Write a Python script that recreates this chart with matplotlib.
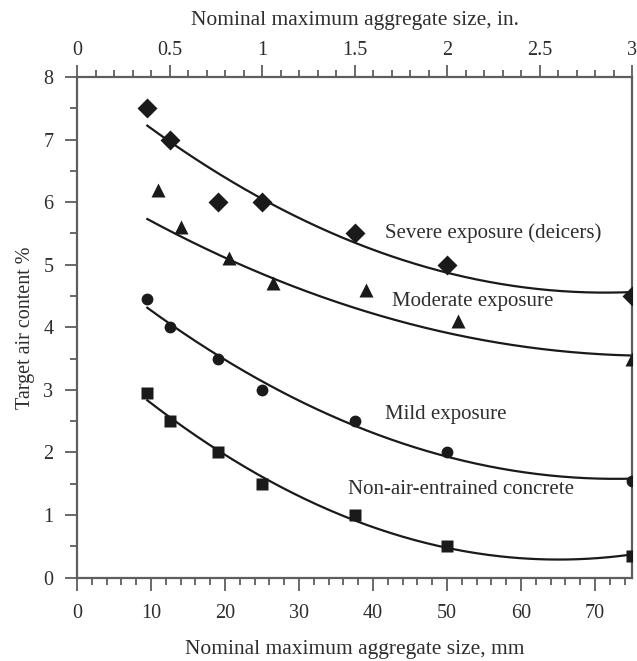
import numpy as np
import matplotlib
matplotlib.use('Agg')
import matplotlib.pyplot as plt
from matplotlib.ticker import MultipleLocator

plt.rcParams['font.family'] = ['Liberation Serif', 'DejaVu Serif']

# data (mm, %)
severe_x = [9.5, 12.5, 19, 25, 37.5, 50, 75]
severe_y = [7.5, 7.0, 6.0, 6.0, 5.5, 5.0, 4.5]
moderate_x = [11, 14, 20.5, 26.5, 39, 51.5, 75]
moderate_y = [6.2, 5.6, 5.1, 4.7, 4.6, 4.1, 3.5]
mild_x = [9.5, 12.5, 19, 25, 37.5, 50, 75]
mild_y = [4.45, 4.0, 3.5, 3.0, 2.5, 2.0, 1.55]
nonair_x = [9.5, 12.5, 19, 25, 37.5, 50, 75]
nonair_y = [2.95, 2.5, 2.0, 1.5, 1.0, 0.5, 0.35]

# moderate trend line as drawn (it sits below a quadratic fit of the points)
moderate_curve_x = [9.5, 30, 51.5, 75]
moderate_curve_y = [5.74, 4.59, 3.9, 3.54]

labels = ['Severe exposure (deicers)', 'Moderate exposure',
          'Mild exposure', 'Non-air-entrained concrete']
label_pos = [(41.6, 5.5), (42.5, 4.41), (41.6, 2.6), (36.6, 1.4)]

ink = '#1a1a1a'
axis_col = '#5e5e5e'
txt = '#2e2e2e'

fig = plt.figure(figsize=(6.37, 6.61), dpi=100)
ax = fig.add_axes([0.1209, 0.1263, 0.8713, 0.7572])

series = [(severe_x, severe_y, severe_x, severe_y, 'D', 10),
          (moderate_x, moderate_y, moderate_curve_x, moderate_curve_y, '^', 9.5),
          (mild_x, mild_y, mild_x, mild_y, 'o', 8.5),
          (nonair_x, nonair_y, nonair_x, nonair_y, 's', 9)]

xs = np.linspace(9.5, 75, 200)
for x, y, cx, cy, m, ms in series:
    coef = np.polyfit(cx, cy, 2)
    ax.plot(xs, np.polyval(coef, xs), color=ink, lw=1.6, zorder=2)
    ax.plot(x, y, m, color=ink, ms=ms, mec='none', zorder=3)

for s, (lx, ly) in zip(labels, label_pos):
    ax.text(lx, ly, s, fontsize=15, color=txt, va='center', ha='left')

ax.set_xlim(0, 75)
ax.set_ylim(0, 8)
ax.xaxis.set_major_locator(MultipleLocator(10))
ax.xaxis.set_minor_locator(MultipleLocator(2))
ax.yaxis.set_major_locator(MultipleLocator(1))
ax.yaxis.set_minor_locator(MultipleLocator(0.5))

for side in ['left', 'bottom', 'right', 'top']:
    ax.spines[side].set_color(axis_col)
    ax.spines[side].set_linewidth(1.6)

ax.tick_params(which='major', length=9, width=1.3, color=axis_col,
               labelsize=14.5, labelcolor=txt, pad=8)
ax.tick_params(axis='x', which='major', pad=10)
ax.tick_params(which='minor', length=5, width=1.3, color=axis_col)
ax.set_xlabel('Nominal maximum aggregate size, mm', fontsize=15.5, color=txt, labelpad=12)
ax.set_ylabel('Target air content %', fontsize=14.5, color=txt, labelpad=6)

# top axis in inches
top = ax.twiny()
top.set_xlim(0, 3)
top.xaxis.set_major_locator(MultipleLocator(0.5))
top.xaxis.set_minor_locator(MultipleLocator(0.1))
top.xaxis.set_major_formatter(plt.FuncFormatter(lambda v, p: f'{v:g}'))
top.tick_params(which='major', length=9, width=1.3, color=axis_col,
                labelsize=14.5, labelcolor=txt, pad=3)
top.tick_params(which='minor', length=5, width=1.3, color=axis_col)
top.set_xlabel('Nominal maximum aggregate size, in.', fontsize=15.5, color=txt, labelpad=12)
for side in top.spines:
    top.spines[side].set_visible(False)

fig.savefig('out.png', dpi=100)
